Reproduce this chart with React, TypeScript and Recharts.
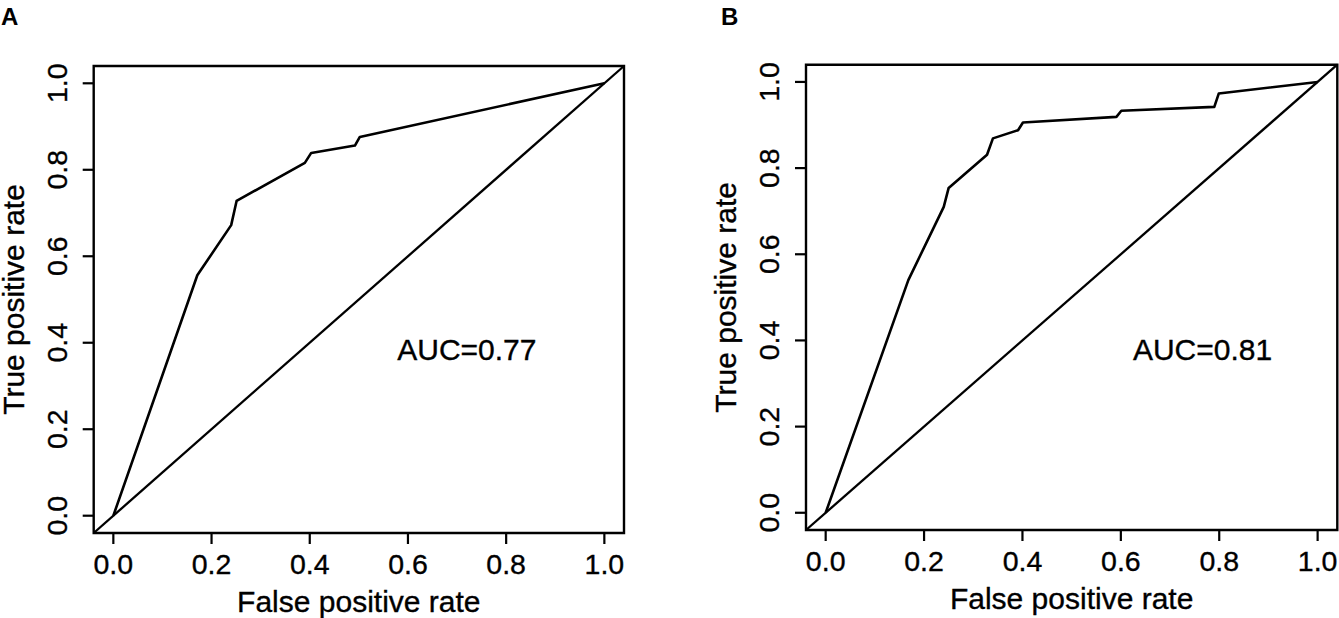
import React from 'react';
import {
  ComposedChart,
  Line,
  XAxis,
  YAxis,
  ReferenceArea,
  ReferenceLine,
  ReferenceDot,
} from 'recharts';

// ---- data ----
const FPR_A = [0, 0.171, 0.24, 0.251, 0.39, 0.403, 0.492, 0.502, 1.0];
const TPR_A = [0, 0.556, 0.672, 0.728, 0.816, 0.839, 0.856, 0.876, 1.0];

const FPR_B = [0, 0.168, 0.24, 0.25, 0.328, 0.34, 0.391, 0.401, 0.591, 0.601, 0.79, 0.799, 1.0];
const TPR_B = [0, 0.54, 0.71, 0.754, 0.831, 0.869, 0.888, 0.906, 0.919, 0.933, 0.942, 0.973, 1.0];

const AXIS_TICKS = [0, 0.2, 0.4, 0.6, 0.8, 1.0];
const DOMAIN: [number, number] = [-0.04, 1.04];
const AUC_LABELS = ['AUC=0.77', 'AUC=0.81'];
const PANEL_LETTERS = ['A', 'B'];
const X_TITLE = 'False positive rate';
const Y_TITLE = 'True positive rate';

const FONT = '"Liberation Sans", Arial, Helvetica, sans-serif';
const INK = '#000';
const TICK_FS = 28.5;
const TITLE_FS = 30;

const toRows = (xs: number[], ys: number[]) => xs.map((x, i) => ({ x, y: ys[i] }));

const textStyle = { stroke: INK, strokeWidth: 0.35 } as const;

const XTick = (props: any) => {
  const { x, y, payload } = props;
  return (
    <text
      x={x}
      y={y}
      dy={29.8}
      textAnchor="middle"
      fontSize={TICK_FS}
      fontFamily={FONT}
      fill={INK}
      {...textStyle}
    >
      {Number(payload.value).toFixed(1)}
    </text>
  );
};

const YTick = (props: any) => {
  const { x, y, payload } = props;
  const bx = x - 15.5;
  return (
    <text
      x={bx}
      y={y}
      transform={`rotate(-90, ${bx}, ${y})`}
      textAnchor="middle"
      fontSize={TICK_FS}
      fontFamily={FONT}
      fill={INK}
      {...textStyle}
    >
      {Number(payload.value).toFixed(1)}
    </text>
  );
};

const XTitle = (props: any) => {
  const vb = props.viewBox || {};
  return (
    <text
      x={vb.x + vb.width / 2}
      y={vb.y + 79}
      textAnchor="middle"
      fontSize={TITLE_FS}
      fontFamily={FONT}
      fill={INK}
      {...textStyle}
    >
      {X_TITLE}
    </text>
  );
};

const YTitle = (props: any) => {
  const vb = props.viewBox || {};
  const bx = vb.x + 20;
  const cy = vb.y + vb.height / 2;
  return (
    <text
      x={bx}
      y={cy}
      transform={`rotate(-90, ${bx}, ${cy})`}
      textAnchor="middle"
      fontSize={TITLE_FS}
      fontFamily={FONT}
      fill={INK}
      {...textStyle}
    >
      {Y_TITLE}
    </text>
  );
};

type PanelProps = {
  rows: { x: number; y: number }[];
  auc: string;
  aucAt: { x: number; y: number };
  width: number;
  height: number;
  margin: { top: number; right: number; bottom: number; left: number };
};

const Panel = ({ rows, auc, aucAt, width, height, margin }: PanelProps) => (
  <ComposedChart width={width} height={height} data={rows} margin={margin}>
    <XAxis
      dataKey="x"
      type="number"
      domain={DOMAIN}
      ticks={AXIS_TICKS}
      allowDataOverflow
      axisLine={false}
      tickLine={{ stroke: INK, strokeWidth: 2.2 }}
      tickSize={11}
      tickMargin={0}
      height={80}
      tick={<XTick />}
      interval={0}
      label={<XTitle />}
    />
    <YAxis
      type="number"
      domain={DOMAIN}
      ticks={AXIS_TICKS}
      allowDataOverflow
      axisLine={false}
      tickLine={{ stroke: INK, strokeWidth: 2.2 }}
      tickSize={11}
      tickMargin={0}
      width={90}
      tick={<YTick />}
      interval={0}
      label={<YTitle />}
    />
    <ReferenceArea
      x1={DOMAIN[0]}
      x2={DOMAIN[1]}
      y1={DOMAIN[0]}
      y2={DOMAIN[1]}
      fill="none"
      fillOpacity={0}
      stroke={INK}
      strokeWidth={2.4}
    />
    <ReferenceLine
      segment={[
        { x: DOMAIN[0], y: DOMAIN[0] },
        { x: DOMAIN[1], y: DOMAIN[1] },
      ]}
      stroke={INK}
      strokeWidth={2.3}
    />
    <Line
      type="linear"
      dataKey="y"
      stroke={INK}
      strokeWidth={2.6}
      dot={false}
      activeDot={false}
      isAnimationActive={false}
      strokeLinejoin="round"
    />
    <ReferenceDot
      x={aucAt.x}
      y={aucAt.y}
      r={0}
      fill="none"
      stroke="none"
      label={{
        value: auc,
        position: 'center',
        fontSize: TITLE_FS,
        fontFamily: FONT,
        fill: INK,
        stroke: INK,
        strokeWidth: 0.35,
      }}
    />
  </ComposedChart>
);

export default function App() {
  const rowsA = toRows(FPR_A, TPR_A);
  const rowsB = toRows(FPR_B, TPR_B);
  return (
    <div
      style={{
        position: 'absolute',
        left: 0,
        top: 0,
        width: 1339,
        height: 618,
        background: '#fff',
        overflow: 'hidden',
      }}
    >
      <div style={{ position: 'absolute', left: 0, top: 0 }}>
        <Panel
          rows={rowsA}
          auc={AUC_LABELS[0]}
          aucAt={{ x: 0.72, y: 0.385 }}
          width={670}
          height={618}
          margin={{ top: 66, right: 46, bottom: 5, left: 3.7 }}
        />
      </div>
      <div style={{ position: 'absolute', left: 700, top: 0 }}>
        <Panel
          rows={rowsB}
          auc={AUC_LABELS[1]}
          aucAt={{ x: 0.766, y: 0.38 }}
          width={639}
          height={618}
          margin={{ top: 64.7, right: 1.7, bottom: 8, left: 16 }}
        />
      </div>
      <svg
        width={1339}
        height={40}
        style={{ position: 'absolute', left: 0, top: 0, pointerEvents: 'none' }}
      >
        <text x={1} y={25} fontSize={24} fontWeight="bold" fontFamily={FONT} fill={INK}>
          {PANEL_LETTERS[0]}
        </text>
        <text x={721} y={25} fontSize={24} fontWeight="bold" fontFamily={FONT} fill={INK}>
          {PANEL_LETTERS[1]}
        </text>
      </svg>
    </div>
  );
}
